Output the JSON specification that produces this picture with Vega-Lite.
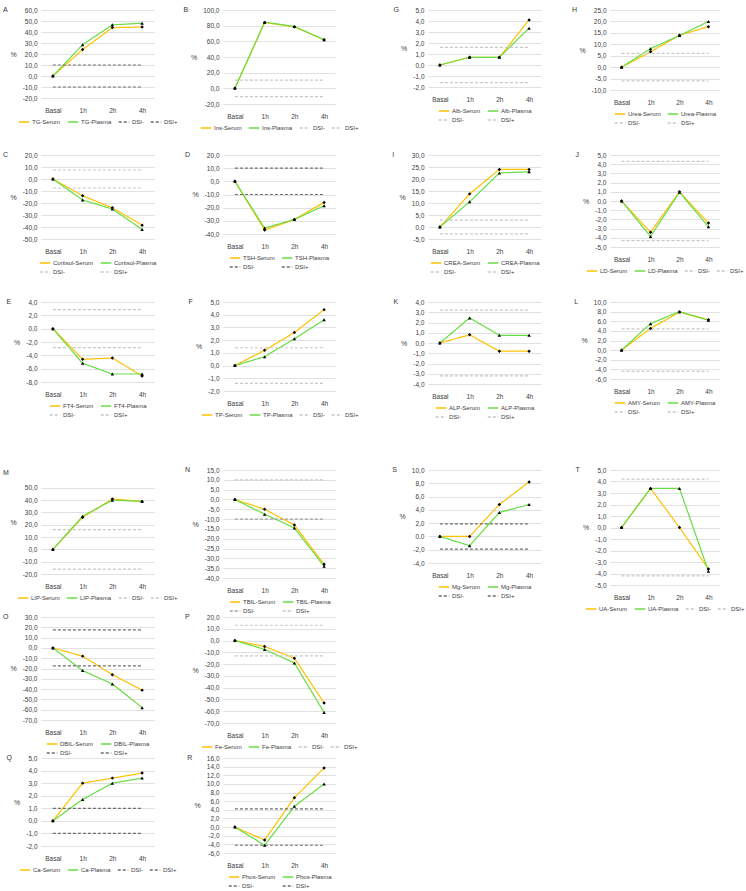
{
"$schema":"https://vega.github.io/schema/vega-lite/v6.json",
"padding":{"left":2,"top":6,"right":2,"bottom":2},
"data":{"values":[
{"p":"A","t":"Basal","Serum":0,"Plasma":0,"DSI-":-10,"DSI+":10},
{"p":"A","t":"1h","Serum":24,"Plasma":28.5,"DSI-":-10,"DSI+":10},
{"p":"A","t":"2h","Serum":44,"Plasma":46.5,"DSI-":-10,"DSI+":10},
{"p":"A","t":"4h","Serum":44.5,"Plasma":48,"DSI-":-10,"DSI+":10},
{"p":"B","t":"Basal","Serum":0,"Plasma":0,"DSI-":-10.6,"DSI+":10.6},
{"p":"B","t":"1h","Serum":84,"Plasma":84.5,"DSI-":-10.6,"DSI+":10.6},
{"p":"B","t":"2h","Serum":78.5,"Plasma":79,"DSI-":-10.6,"DSI+":10.6},
{"p":"B","t":"4h","Serum":62,"Plasma":62,"DSI-":-10.6,"DSI+":10.6},
{"p":"C","t":"Basal","Serum":0,"Plasma":0,"DSI-":-7.5,"DSI+":7.5},
{"p":"C","t":"1h","Serum":-14,"Plasma":-17.5,"DSI-":-7.5,"DSI+":7.5},
{"p":"C","t":"2h","Serum":-24,"Plasma":-25,"DSI-":-7.5,"DSI+":7.5},
{"p":"C","t":"4h","Serum":-38.5,"Plasma":-42,"DSI-":-7.5,"DSI+":7.5},
{"p":"D","t":"Basal","Serum":0,"Plasma":0,"DSI-":-10,"DSI+":10},
{"p":"D","t":"1h","Serum":-37,"Plasma":-35.5,"DSI-":-10,"DSI+":10},
{"p":"D","t":"2h","Serum":-29,"Plasma":-29,"DSI-":-10,"DSI+":10},
{"p":"D","t":"4h","Serum":-16,"Plasma":-18.5,"DSI-":-10,"DSI+":10},
{"p":"E","t":"Basal","Serum":0,"Plasma":0,"DSI-":-2.85,"DSI+":2.85},
{"p":"E","t":"1h","Serum":-4.6,"Plasma":-5.2,"DSI-":-2.85,"DSI+":2.85},
{"p":"E","t":"2h","Serum":-4.4,"Plasma":-6.8,"DSI-":-2.85,"DSI+":2.85},
{"p":"E","t":"4h","Serum":-7.1,"Plasma":-6.8,"DSI-":-2.85,"DSI+":2.85},
{"p":"F","t":"Basal","Serum":0,"Plasma":0,"DSI-":-1.4,"DSI+":1.4},
{"p":"F","t":"1h","Serum":1.2,"Plasma":0.7,"DSI-":-1.4,"DSI+":1.4},
{"p":"F","t":"2h","Serum":2.6,"Plasma":2.1,"DSI-":-1.4,"DSI+":1.4},
{"p":"F","t":"4h","Serum":4.4,"Plasma":3.6,"DSI-":-1.4,"DSI+":1.4},
{"p":"G","t":"Basal","Serum":0,"Plasma":0,"DSI-":-1.6,"DSI+":1.6},
{"p":"G","t":"1h","Serum":0.7,"Plasma":0.7,"DSI-":-1.6,"DSI+":1.6},
{"p":"G","t":"2h","Serum":0.7,"Plasma":0.7,"DSI-":-1.6,"DSI+":1.6},
{"p":"G","t":"4h","Serum":4.1,"Plasma":3.35,"DSI-":-1.6,"DSI+":1.6},
{"p":"H","t":"Basal","Serum":0,"Plasma":0,"DSI-":-6,"DSI+":6},
{"p":"H","t":"1h","Serum":6.7,"Plasma":8.1,"DSI-":-6,"DSI+":6},
{"p":"H","t":"2h","Serum":14,"Plasma":13.8,"DSI-":-6,"DSI+":6},
{"p":"H","t":"4h","Serum":17.7,"Plasma":20,"DSI-":-6,"DSI+":6},
{"p":"I","t":"Basal","Serum":0,"Plasma":0,"DSI-":-2.9,"DSI+":2.9},
{"p":"I","t":"1h","Serum":13.8,"Plasma":10.5,"DSI-":-2.9,"DSI+":2.9},
{"p":"I","t":"2h","Serum":24,"Plasma":22.5,"DSI-":-2.9,"DSI+":2.9},
{"p":"I","t":"4h","Serum":24,"Plasma":23,"DSI-":-2.9,"DSI+":2.9},
{"p":"J","t":"Basal","Serum":0,"Plasma":0,"DSI-":-4.3,"DSI+":4.3},
{"p":"J","t":"1h","Serum":-3.4,"Plasma":-3.85,"DSI-":-4.3,"DSI+":4.3},
{"p":"J","t":"2h","Serum":1,"Plasma":0.95,"DSI-":-4.3,"DSI+":4.3},
{"p":"J","t":"4h","Serum":-2.4,"Plasma":-2.8,"DSI-":-4.3,"DSI+":4.3},
{"p":"K","t":"Basal","Serum":0,"Plasma":0,"DSI-":-3.2,"DSI+":3.2},
{"p":"K","t":"1h","Serum":0.8,"Plasma":2.45,"DSI-":-3.2,"DSI+":3.2},
{"p":"K","t":"2h","Serum":-0.8,"Plasma":0.75,"DSI-":-3.2,"DSI+":3.2},
{"p":"K","t":"4h","Serum":-0.8,"Plasma":0.75,"DSI-":-3.2,"DSI+":3.2},
{"p":"L","t":"Basal","Serum":0,"Plasma":0,"DSI-":-4.4,"DSI+":4.4},
{"p":"L","t":"1h","Serum":4.5,"Plasma":5.5,"DSI-":-4.4,"DSI+":4.4},
{"p":"L","t":"2h","Serum":7.9,"Plasma":8,"DSI-":-4.4,"DSI+":4.4},
{"p":"L","t":"4h","Serum":6.3,"Plasma":6.2,"DSI-":-4.4,"DSI+":4.4},
{"p":"M","t":"Basal","Serum":0,"Plasma":0,"DSI-":-16,"DSI+":16},
{"p":"M","t":"1h","Serum":26,"Plasma":27,"DSI-":-16,"DSI+":16},
{"p":"M","t":"2h","Serum":41,"Plasma":40,"DSI-":-16,"DSI+":16},
{"p":"M","t":"4h","Serum":39,"Plasma":39,"DSI-":-16,"DSI+":16},
{"p":"N","t":"Basal","Serum":0,"Plasma":0,"DSI-":-10,"DSI+":10},
{"p":"N","t":"1h","Serum":-5,"Plasma":-7.5,"DSI-":-10,"DSI+":10},
{"p":"N","t":"2h","Serum":-13,"Plasma":-14.5,"DSI-":-10,"DSI+":10},
{"p":"N","t":"4h","Serum":-33,"Plasma":-34,"DSI-":-10,"DSI+":10},
{"p":"O","t":"Basal","Serum":0,"Plasma":0,"DSI-":-17.5,"DSI+":17.5},
{"p":"O","t":"1h","Serum":-8,"Plasma":-22,"DSI-":-17.5,"DSI+":17.5},
{"p":"O","t":"2h","Serum":-26,"Plasma":-35,"DSI-":-17.5,"DSI+":17.5},
{"p":"O","t":"4h","Serum":-41,"Plasma":-58,"DSI-":-17.5,"DSI+":17.5},
{"p":"P","t":"Basal","Serum":0,"Plasma":0,"DSI-":-13,"DSI+":13},
{"p":"P","t":"1h","Serum":-5,"Plasma":-7.5,"DSI-":-13,"DSI+":13},
{"p":"P","t":"2h","Serum":-15,"Plasma":-19,"DSI-":-13,"DSI+":13},
{"p":"P","t":"4h","Serum":-53,"Plasma":-61,"DSI-":-13,"DSI+":13},
{"p":"Q","t":"Basal","Serum":0,"Plasma":0,"DSI-":-1,"DSI+":1},
{"p":"Q","t":"1h","Serum":3,"Plasma":1.7,"DSI-":-1,"DSI+":1},
{"p":"Q","t":"2h","Serum":3.4,"Plasma":3,"DSI-":-1,"DSI+":1},
{"p":"Q","t":"4h","Serum":3.8,"Plasma":3.4,"DSI-":-1,"DSI+":1},
{"p":"R","t":"Basal","Serum":0,"Plasma":0,"DSI-":-4.2,"DSI+":4.2},
{"p":"R","t":"1h","Serum":-3,"Plasma":-4.2,"DSI-":-4.2,"DSI+":4.2},
{"p":"R","t":"2h","Serum":6.8,"Plasma":4.8,"DSI-":-4.2,"DSI+":4.2},
{"p":"R","t":"4h","Serum":13.7,"Plasma":10,"DSI-":-4.2,"DSI+":4.2},
{"p":"S","t":"Basal","Serum":0,"Plasma":0,"DSI-":-1.9,"DSI+":1.9},
{"p":"S","t":"1h","Serum":0,"Plasma":-1.4,"DSI-":-1.9,"DSI+":1.9},
{"p":"S","t":"2h","Serum":4.8,"Plasma":3.6,"DSI-":-1.9,"DSI+":1.9},
{"p":"S","t":"4h","Serum":8.2,"Plasma":4.8,"DSI-":-1.9,"DSI+":1.9},
{"p":"T","t":"Basal","Serum":0,"Plasma":0,"DSI-":-4.2,"DSI+":4.2},
{"p":"T","t":"1h","Serum":3.4,"Plasma":3.4,"DSI-":-4.2,"DSI+":4.2},
{"p":"T","t":"2h","Serum":0,"Plasma":3.4,"DSI-":-4.2,"DSI+":4.2},
{"p":"T","t":"4h","Serum":-3.6,"Plasma":-3.8,"DSI-":-4.2,"DSI+":4.2}
]},
"resolve":{"scale":{"color":"independent","strokeDash":"independent","shape":"independent","x":"independent","y":"independent"},"legend":{"color":"independent","strokeDash":"independent"}},
"columns":4,
"spacing":{"row":0,"column":69},
"bounds":"flush",
"align":"each",
"concat":[
{"title":"A","width":113,"height":88,"transform":[{"filter":"datum.p=='A'"},{"fold":["Serum","Plasma","DSI-","DSI+"],"as":["k","v"]}],
 "encoding":{"x":{"field":"t","type":"ordinal","sort":["Basal","1h","2h","4h"],"scale":{"type":"point","padding":0.4},"axis":{"title":null}},
  "y":{"field":"v","type":"quantitative","scale":{"domain":[-20,60],"nice":false,"zero":false},"axis":{"tickCount":8,"format":".1f","title":"%"}}},
 "layer":[
  {"mark":{"type":"line","strokeWidth":1.2},"encoding":{
    "color":{"field":"k","type":"nominal","scale":{"domain":["Serum","Plasma","DSI-","DSI+"],"range":["#FFC000","#66DD44","#6E6E6E","#6E6E6E"]},"legend":{"title":null,"columns":4,"labelExpr":"datum.label=='Serum'?'TG-Serum':datum.label=='Plasma'?'TG-Plasma':datum.label"}},
    "strokeDash":{"field":"k","type":"nominal","scale":{"domain":["Serum","Plasma","DSI-","DSI+"],"range":[[1,0],[1,0],[3,2],[3,2]]},"legend":{"title":null,"columns":4,"labelExpr":"datum.label=='Serum'?'TG-Serum':datum.label=='Plasma'?'TG-Plasma':datum.label"}}}},
  {"transform":[{"filter":{"field":"k","oneOf":["Serum","Plasma"]}}],"mark":{"type":"point","filled":true,"size":12,"color":"#000","opacity":1},"encoding":{"shape":{"field":"k","type":"nominal","scale":{"domain":["Serum","Plasma"],"range":["diamond","triangle-up"]},"legend":null}}}
 ]},
{"title":"B","width":113,"height":94,"transform":[{"filter":"datum.p=='B'"},{"fold":["Serum","Plasma","DSI-","DSI+"],"as":["k","v"]}],
 "encoding":{"x":{"field":"t","type":"ordinal","sort":["Basal","1h","2h","4h"],"scale":{"type":"point","padding":0.4},"axis":{"title":null}},
  "y":{"field":"v","type":"quantitative","scale":{"domain":[-20,100],"nice":false,"zero":false},"axis":{"tickCount":6,"format":".1f","title":"%"}}},
 "layer":[
  {"mark":{"type":"line","strokeWidth":1.2},"encoding":{
    "color":{"field":"k","type":"nominal","scale":{"domain":["Serum","Plasma","DSI-","DSI+"],"range":["#FFC000","#66DD44","#C8C8C8","#C8C8C8"]},"legend":{"title":null,"columns":4,"labelExpr":"datum.label=='Serum'?'Ins-Serum':datum.label=='Plasma'?'Ins-Plasma':datum.label"}},
    "strokeDash":{"field":"k","type":"nominal","scale":{"domain":["Serum","Plasma","DSI-","DSI+"],"range":[[1,0],[1,0],[3,2],[3,2]]},"legend":{"title":null,"columns":4,"labelExpr":"datum.label=='Serum'?'Ins-Serum':datum.label=='Plasma'?'Ins-Plasma':datum.label"}}}},
  {"transform":[{"filter":{"field":"k","oneOf":["Serum","Plasma"]}}],"mark":{"type":"point","filled":true,"size":12,"color":"#000","opacity":1},"encoding":{"shape":{"field":"k","type":"nominal","scale":{"domain":["Serum","Plasma"],"range":["diamond","triangle-up"]},"legend":null}}}
 ]},
{"title":"G","width":113,"height":77,"transform":[{"filter":"datum.p=='G'"},{"fold":["Serum","Plasma","DSI-","DSI+"],"as":["k","v"]}],
 "encoding":{"x":{"field":"t","type":"ordinal","sort":["Basal","1h","2h","4h"],"scale":{"type":"point","padding":0.4},"axis":{"title":null}},
  "y":{"field":"v","type":"quantitative","scale":{"domain":[-2,5],"nice":false,"zero":false},"axis":{"tickCount":7,"format":".1f","title":"%"}}},
 "layer":[
  {"mark":{"type":"line","strokeWidth":1.2},"encoding":{
    "color":{"field":"k","type":"nominal","scale":{"domain":["Serum","Plasma","DSI-","DSI+"],"range":["#FFC000","#66DD44","#C8C8C8","#C8C8C8"]},"legend":{"title":null,"columns":2,"labelExpr":"datum.label=='Serum'?'Alb-Serum':datum.label=='Plasma'?'Alb-Plasma':datum.label"}},
    "strokeDash":{"field":"k","type":"nominal","scale":{"domain":["Serum","Plasma","DSI-","DSI+"],"range":[[1,0],[1,0],[3,2],[3,2]]},"legend":{"title":null,"columns":2,"labelExpr":"datum.label=='Serum'?'Alb-Serum':datum.label=='Plasma'?'Alb-Plasma':datum.label"}}}},
  {"transform":[{"filter":{"field":"k","oneOf":["Serum","Plasma"]}}],"mark":{"type":"point","filled":true,"size":12,"color":"#000","opacity":1},"encoding":{"shape":{"field":"k","type":"nominal","scale":{"domain":["Serum","Plasma"],"range":["diamond","triangle-up"]},"legend":null}}}
 ]},
{"title":"H","width":110,"height":80,"transform":[{"filter":"datum.p=='H'"},{"fold":["Serum","Plasma","DSI-","DSI+"],"as":["k","v"]}],
 "encoding":{"x":{"field":"t","type":"ordinal","sort":["Basal","1h","2h","4h"],"scale":{"type":"point","padding":0.4},"axis":{"title":null}},
  "y":{"field":"v","type":"quantitative","scale":{"domain":[-10,25],"nice":false,"zero":false},"axis":{"tickCount":7,"format":".1f","title":"%"}}},
 "layer":[
  {"mark":{"type":"line","strokeWidth":1.2},"encoding":{
    "color":{"field":"k","type":"nominal","scale":{"domain":["Serum","Plasma","DSI-","DSI+"],"range":["#FFC000","#66DD44","#C8C8C8","#C8C8C8"]},"legend":{"title":null,"columns":2,"labelExpr":"datum.label=='Serum'?'Urea-Serum':datum.label=='Plasma'?'Urea-Plasma':datum.label"}},
    "strokeDash":{"field":"k","type":"nominal","scale":{"domain":["Serum","Plasma","DSI-","DSI+"],"range":[[1,0],[1,0],[3,2],[3,2]]},"legend":{"title":null,"columns":2,"labelExpr":"datum.label=='Serum'?'Urea-Serum':datum.label=='Plasma'?'Urea-Plasma':datum.label"}}}},
  {"transform":[{"filter":{"field":"k","oneOf":["Serum","Plasma"]}}],"mark":{"type":"point","filled":true,"size":12,"color":"#000","opacity":1},"encoding":{"shape":{"field":"k","type":"nominal","scale":{"domain":["Serum","Plasma"],"range":["diamond","triangle-up"]},"legend":null}}}
 ]},
{"width":113,"height":51,"data":{"values":[]},"mark":"point"},
{"width":136,"height":51,"data":{"values":[]},"mark":"point"},
{"width":113,"height":51,"data":{"values":[]},"mark":"point"},
{"width":110,"height":51,"data":{"values":[]},"mark":"point"},
{"title":"C","width":113,"height":84,"transform":[{"filter":"datum.p=='C'"},{"fold":["Serum","Plasma","DSI-","DSI+"],"as":["k","v"]}],
 "encoding":{"x":{"field":"t","type":"ordinal","sort":["Basal","1h","2h","4h"],"scale":{"type":"point","padding":0.4},"axis":{"title":null}},
  "y":{"field":"v","type":"quantitative","scale":{"domain":[-50,20],"nice":false,"zero":false},"axis":{"tickCount":7,"format":".1f","title":"%"}}},
 "layer":[
  {"mark":{"type":"line","strokeWidth":1.2},"encoding":{
    "color":{"field":"k","type":"nominal","scale":{"domain":["Serum","Plasma","DSI-","DSI+"],"range":["#FFC000","#66DD44","#C8C8C8","#C8C8C8"]},"legend":{"title":null,"columns":2,"labelExpr":"datum.label=='Serum'?'Cortisol-Serum':datum.label=='Plasma'?'Cortisol-Plasma':datum.label"}},
    "strokeDash":{"field":"k","type":"nominal","scale":{"domain":["Serum","Plasma","DSI-","DSI+"],"range":[[1,0],[1,0],[3,2],[3,2]]},"legend":{"title":null,"columns":2,"labelExpr":"datum.label=='Serum'?'Cortisol-Serum':datum.label=='Plasma'?'Cortisol-Plasma':datum.label"}}}},
  {"transform":[{"filter":{"field":"k","oneOf":["Serum","Plasma"]}}],"mark":{"type":"point","filled":true,"size":12,"color":"#000","opacity":1},"encoding":{"shape":{"field":"k","type":"nominal","scale":{"domain":["Serum","Plasma"],"range":["diamond","triangle-up"]},"legend":null}}}
 ]},
{"title":"D","width":113,"height":79,"transform":[{"filter":"datum.p=='D'"},{"fold":["Serum","Plasma","DSI-","DSI+"],"as":["k","v"]}],
 "encoding":{"x":{"field":"t","type":"ordinal","sort":["Basal","1h","2h","4h"],"scale":{"type":"point","padding":0.4},"axis":{"title":null}},
  "y":{"field":"v","type":"quantitative","scale":{"domain":[-40,20],"nice":false,"zero":false},"axis":{"tickCount":6,"format":".1f","title":"%"}}},
 "layer":[
  {"mark":{"type":"line","strokeWidth":1.2},"encoding":{
    "color":{"field":"k","type":"nominal","scale":{"domain":["Serum","Plasma","DSI-","DSI+"],"range":["#FFC000","#66DD44","#6E6E6E","#6E6E6E"]},"legend":{"title":null,"columns":2,"labelExpr":"datum.label=='Serum'?'TSH-Serum':datum.label=='Plasma'?'TSH-Plasma':datum.label"}},
    "strokeDash":{"field":"k","type":"nominal","scale":{"domain":["Serum","Plasma","DSI-","DSI+"],"range":[[1,0],[1,0],[3,2],[3,2]]},"legend":{"title":null,"columns":2,"labelExpr":"datum.label=='Serum'?'TSH-Serum':datum.label=='Plasma'?'TSH-Plasma':datum.label"}}}},
  {"transform":[{"filter":{"field":"k","oneOf":["Serum","Plasma"]}}],"mark":{"type":"point","filled":true,"size":12,"color":"#000","opacity":1},"encoding":{"shape":{"field":"k","type":"nominal","scale":{"domain":["Serum","Plasma"],"range":["diamond","triangle-up"]},"legend":null}}}
 ]},
{"title":"I","width":113,"height":84,"transform":[{"filter":"datum.p=='I'"},{"fold":["Serum","Plasma","DSI-","DSI+"],"as":["k","v"]}],
 "encoding":{"x":{"field":"t","type":"ordinal","sort":["Basal","1h","2h","4h"],"scale":{"type":"point","padding":0.4},"axis":{"title":null}},
  "y":{"field":"v","type":"quantitative","scale":{"domain":[-5,30],"nice":false,"zero":false},"axis":{"tickCount":7,"format":".1f","title":"%"}}},
 "layer":[
  {"mark":{"type":"line","strokeWidth":1.2},"encoding":{
    "color":{"field":"k","type":"nominal","scale":{"domain":["Serum","Plasma","DSI-","DSI+"],"range":["#FFC000","#66DD44","#C8C8C8","#C8C8C8"]},"legend":{"title":null,"columns":2,"labelExpr":"datum.label=='Serum'?'CREA-Serum':datum.label=='Plasma'?'CREA-Plasma':datum.label"}},
    "strokeDash":{"field":"k","type":"nominal","scale":{"domain":["Serum","Plasma","DSI-","DSI+"],"range":[[1,0],[1,0],[3,2],[3,2]]},"legend":{"title":null,"columns":2,"labelExpr":"datum.label=='Serum'?'CREA-Serum':datum.label=='Plasma'?'CREA-Plasma':datum.label"}}}},
  {"transform":[{"filter":{"field":"k","oneOf":["Serum","Plasma"]}}],"mark":{"type":"point","filled":true,"size":12,"color":"#000","opacity":1},"encoding":{"shape":{"field":"k","type":"nominal","scale":{"domain":["Serum","Plasma"],"range":["diamond","triangle-up"]},"legend":null}}}
 ]},
{"title":"J","width":110,"height":92,"transform":[{"filter":"datum.p=='J'"},{"fold":["Serum","Plasma","DSI-","DSI+"],"as":["k","v"]}],
 "encoding":{"x":{"field":"t","type":"ordinal","sort":["Basal","1h","2h","4h"],"scale":{"type":"point","padding":0.4},"axis":{"title":null}},
  "y":{"field":"v","type":"quantitative","scale":{"domain":[-5,5],"nice":false,"zero":false},"axis":{"tickCount":10,"format":".1f","title":"%"}}},
 "layer":[
  {"mark":{"type":"line","strokeWidth":1.2},"encoding":{
    "color":{"field":"k","type":"nominal","scale":{"domain":["Serum","Plasma","DSI-","DSI+"],"range":["#FFC000","#66DD44","#C8C8C8","#C8C8C8"]},"legend":{"title":null,"columns":4,"labelExpr":"datum.label=='Serum'?'LD-Serum':datum.label=='Plasma'?'LD-Plasma':datum.label"}},
    "strokeDash":{"field":"k","type":"nominal","scale":{"domain":["Serum","Plasma","DSI-","DSI+"],"range":[[1,0],[1,0],[3,2],[3,2]]},"legend":{"title":null,"columns":4,"labelExpr":"datum.label=='Serum'?'LD-Serum':datum.label=='Plasma'?'LD-Plasma':datum.label"}}}},
  {"transform":[{"filter":{"field":"k","oneOf":["Serum","Plasma"]}}],"mark":{"type":"point","filled":true,"size":12,"color":"#000","opacity":1},"encoding":{"shape":{"field":"k","type":"nominal","scale":{"domain":["Serum","Plasma"],"range":["diamond","triangle-up"]},"legend":null}}}
 ]},
{"width":113,"height":55,"data":{"values":[]},"mark":"point"},
{"width":136,"height":55,"data":{"values":[]},"mark":"point"},
{"width":113,"height":55,"data":{"values":[]},"mark":"point"},
{"width":110,"height":55,"data":{"values":[]},"mark":"point"},
{"title":"E","width":113,"height":80,"transform":[{"filter":"datum.p=='E'"},{"fold":["Serum","Plasma","DSI-","DSI+"],"as":["k","v"]}],
 "encoding":{"x":{"field":"t","type":"ordinal","sort":["Basal","1h","2h","4h"],"scale":{"type":"point","padding":0.4},"axis":{"title":null}},
  "y":{"field":"v","type":"quantitative","scale":{"domain":[-8,4],"nice":false,"zero":false},"axis":{"tickCount":6,"format":".1f","title":"%"}}},
 "layer":[
  {"mark":{"type":"line","strokeWidth":1.2},"encoding":{
    "color":{"field":"k","type":"nominal","scale":{"domain":["Serum","Plasma","DSI-","DSI+"],"range":["#FFC000","#66DD44","#C8C8C8","#C8C8C8"]},"legend":{"title":null,"columns":2,"labelExpr":"datum.label=='Serum'?'FT4-Serum':datum.label=='Plasma'?'FT4-Plasma':datum.label"}},
    "strokeDash":{"field":"k","type":"nominal","scale":{"domain":["Serum","Plasma","DSI-","DSI+"],"range":[[1,0],[1,0],[3,2],[3,2]]},"legend":{"title":null,"columns":2,"labelExpr":"datum.label=='Serum'?'FT4-Serum':datum.label=='Plasma'?'FT4-Plasma':datum.label"}}}},
  {"transform":[{"filter":{"field":"k","oneOf":["Serum","Plasma"]}}],"mark":{"type":"point","filled":true,"size":12,"color":"#000","opacity":1},"encoding":{"shape":{"field":"k","type":"nominal","scale":{"domain":["Serum","Plasma"],"range":["diamond","triangle-up"]},"legend":null}}}
 ]},
{"title":"F","width":113,"height":89,"transform":[{"filter":"datum.p=='F'"},{"fold":["Serum","Plasma","DSI-","DSI+"],"as":["k","v"]}],
 "encoding":{"x":{"field":"t","type":"ordinal","sort":["Basal","1h","2h","4h"],"scale":{"type":"point","padding":0.4},"axis":{"title":null}},
  "y":{"field":"v","type":"quantitative","scale":{"domain":[-2,5],"nice":false,"zero":false},"axis":{"tickCount":7,"format":".1f","title":"%"}}},
 "layer":[
  {"mark":{"type":"line","strokeWidth":1.2},"encoding":{
    "color":{"field":"k","type":"nominal","scale":{"domain":["Serum","Plasma","DSI-","DSI+"],"range":["#FFC000","#66DD44","#C8C8C8","#C8C8C8"]},"legend":{"title":null,"columns":4,"labelExpr":"datum.label=='Serum'?'TP-Serum':datum.label=='Plasma'?'TP-Plasma':datum.label"}},
    "strokeDash":{"field":"k","type":"nominal","scale":{"domain":["Serum","Plasma","DSI-","DSI+"],"range":[[1,0],[1,0],[3,2],[3,2]]},"legend":{"title":null,"columns":4,"labelExpr":"datum.label=='Serum'?'TP-Serum':datum.label=='Plasma'?'TP-Plasma':datum.label"}}}},
  {"transform":[{"filter":{"field":"k","oneOf":["Serum","Plasma"]}}],"mark":{"type":"point","filled":true,"size":12,"color":"#000","opacity":1},"encoding":{"shape":{"field":"k","type":"nominal","scale":{"domain":["Serum","Plasma"],"range":["diamond","triangle-up"]},"legend":null}}}
 ]},
{"title":"K","width":113,"height":82,"transform":[{"filter":"datum.p=='K'"},{"fold":["Serum","Plasma","DSI-","DSI+"],"as":["k","v"]}],
 "encoding":{"x":{"field":"t","type":"ordinal","sort":["Basal","1h","2h","4h"],"scale":{"type":"point","padding":0.4},"axis":{"title":null}},
  "y":{"field":"v","type":"quantitative","scale":{"domain":[-4,4],"nice":false,"zero":false},"axis":{"tickCount":8,"format":".1f","title":"%"}}},
 "layer":[
  {"mark":{"type":"line","strokeWidth":1.2},"encoding":{
    "color":{"field":"k","type":"nominal","scale":{"domain":["Serum","Plasma","DSI-","DSI+"],"range":["#FFC000","#66DD44","#C8C8C8","#C8C8C8"]},"legend":{"title":null,"columns":2,"labelExpr":"datum.label=='Serum'?'ALP-Serum':datum.label=='Plasma'?'ALP-Plasma':datum.label"}},
    "strokeDash":{"field":"k","type":"nominal","scale":{"domain":["Serum","Plasma","DSI-","DSI+"],"range":[[1,0],[1,0],[3,2],[3,2]]},"legend":{"title":null,"columns":2,"labelExpr":"datum.label=='Serum'?'ALP-Serum':datum.label=='Plasma'?'ALP-Plasma':datum.label"}}}},
  {"transform":[{"filter":{"field":"k","oneOf":["Serum","Plasma"]}}],"mark":{"type":"point","filled":true,"size":12,"color":"#000","opacity":1},"encoding":{"shape":{"field":"k","type":"nominal","scale":{"domain":["Serum","Plasma"],"range":["diamond","triangle-up"]},"legend":null}}}
 ]},
{"title":"L","width":110,"height":77,"transform":[{"filter":"datum.p=='L'"},{"fold":["Serum","Plasma","DSI-","DSI+"],"as":["k","v"]}],
 "encoding":{"x":{"field":"t","type":"ordinal","sort":["Basal","1h","2h","4h"],"scale":{"type":"point","padding":0.4},"axis":{"title":null}},
  "y":{"field":"v","type":"quantitative","scale":{"domain":[-6,10],"nice":false,"zero":false},"axis":{"tickCount":8,"format":".1f","title":"%"}}},
 "layer":[
  {"mark":{"type":"line","strokeWidth":1.2},"encoding":{
    "color":{"field":"k","type":"nominal","scale":{"domain":["Serum","Plasma","DSI-","DSI+"],"range":["#FFC000","#66DD44","#C8C8C8","#C8C8C8"]},"legend":{"title":null,"columns":2,"labelExpr":"datum.label=='Serum'?'AMY-Serum':datum.label=='Plasma'?'AMY-Plasma':datum.label"}},
    "strokeDash":{"field":"k","type":"nominal","scale":{"domain":["Serum","Plasma","DSI-","DSI+"],"range":[[1,0],[1,0],[3,2],[3,2]]},"legend":{"title":null,"columns":2,"labelExpr":"datum.label=='Serum'?'AMY-Serum':datum.label=='Plasma'?'AMY-Plasma':datum.label"}}}},
  {"transform":[{"filter":{"field":"k","oneOf":["Serum","Plasma"]}}],"mark":{"type":"point","filled":true,"size":12,"color":"#000","opacity":1},"encoding":{"shape":{"field":"k","type":"nominal","scale":{"domain":["Serum","Plasma"],"range":["diamond","triangle-up"]},"legend":null}}}
 ]},
{"width":113,"height":79,"data":{"values":[]},"mark":"point"},
{"width":136,"height":79,"data":{"values":[]},"mark":"point"},
{"width":113,"height":79,"data":{"values":[]},"mark":"point"},
{"width":110,"height":79,"data":{"values":[]},"mark":"point"},
{"title":"M","width":113,"height":104,"transform":[{"filter":"datum.p=='M'"},{"fold":["Serum","Plasma","DSI-","DSI+"],"as":["k","v"]}],
 "encoding":{"x":{"field":"t","type":"ordinal","sort":["Basal","1h","2h","4h"],"scale":{"type":"point","padding":0.4},"axis":{"title":null}},
  "y":{"field":"v","type":"quantitative","scale":{"domain":[-20,64.5],"nice":false,"zero":false},"axis":{"values":[-20,-10,0,10,20,30,40,50],"format":".1f","title":"%"}}},
 "layer":[
  {"mark":{"type":"line","strokeWidth":1.2},"encoding":{
    "color":{"field":"k","type":"nominal","scale":{"domain":["Serum","Plasma","DSI-","DSI+"],"range":["#FFC000","#66DD44","#C8C8C8","#C8C8C8"]},"legend":{"title":null,"columns":4,"labelExpr":"datum.label=='Serum'?'LIP-Serum':datum.label=='Plasma'?'LIP-Plasma':datum.label"}},
    "strokeDash":{"field":"k","type":"nominal","scale":{"domain":["Serum","Plasma","DSI-","DSI+"],"range":[[1,0],[1,0],[3,2],[3,2]]},"legend":{"title":null,"columns":4,"labelExpr":"datum.label=='Serum'?'LIP-Serum':datum.label=='Plasma'?'LIP-Plasma':datum.label"}}}},
  {"transform":[{"filter":{"field":"k","oneOf":["Serum","Plasma"]}}],"mark":{"type":"point","filled":true,"size":12,"color":"#000","opacity":1},"encoding":{"shape":{"field":"k","type":"nominal","scale":{"domain":["Serum","Plasma"],"range":["diamond","triangle-up"]},"legend":null}}}
 ]},
{"title":"N","width":113,"height":108,"transform":[{"filter":"datum.p=='N'"},{"fold":["Serum","Plasma","DSI-","DSI+"],"as":["k","v"]}],
 "encoding":{"x":{"field":"t","type":"ordinal","sort":["Basal","1h","2h","4h"],"scale":{"type":"point","padding":0.4},"axis":{"title":null}},
  "y":{"field":"v","type":"quantitative","scale":{"domain":[-40,15],"nice":false,"zero":false},"axis":{"tickCount":11,"format":".1f","title":"%"}}},
 "layer":[
  {"mark":{"type":"line","strokeWidth":1.2},"encoding":{
    "color":{"field":"k","type":"nominal","scale":{"domain":["Serum","Plasma","DSI-","DSI+"],"range":["#FFC000","#66DD44","#A0A0A0","#C8C8C8"]},"legend":{"title":null,"columns":2,"labelExpr":"datum.label=='Serum'?'TBIL-Serum':datum.label=='Plasma'?'TBIL-Plasma':datum.label"}},
    "strokeDash":{"field":"k","type":"nominal","scale":{"domain":["Serum","Plasma","DSI-","DSI+"],"range":[[1,0],[1,0],[3,2],[3,2]]},"legend":{"title":null,"columns":2,"labelExpr":"datum.label=='Serum'?'TBIL-Serum':datum.label=='Plasma'?'TBIL-Plasma':datum.label"}}}},
  {"transform":[{"filter":{"field":"k","oneOf":["Serum","Plasma"]}}],"mark":{"type":"point","filled":true,"size":12,"color":"#000","opacity":1},"encoding":{"shape":{"field":"k","type":"nominal","scale":{"domain":["Serum","Plasma"],"range":["diamond","triangle-up"]},"legend":null}}}
 ]},
{"title":"S","width":113,"height":93,"transform":[{"filter":"datum.p=='S'"},{"fold":["Serum","Plasma","DSI-","DSI+"],"as":["k","v"]}],
 "encoding":{"x":{"field":"t","type":"ordinal","sort":["Basal","1h","2h","4h"],"scale":{"type":"point","padding":0.4},"axis":{"title":null}},
  "y":{"field":"v","type":"quantitative","scale":{"domain":[-4,10],"nice":false,"zero":false},"axis":{"tickCount":7,"format":".1f","title":"%"}}},
 "layer":[
  {"mark":{"type":"line","strokeWidth":1.2},"encoding":{
    "color":{"field":"k","type":"nominal","scale":{"domain":["Serum","Plasma","DSI-","DSI+"],"range":["#FFC000","#66DD44","#6E6E6E","#6E6E6E"]},"legend":{"title":null,"columns":2,"labelExpr":"datum.label=='Serum'?'Mg-Serum':datum.label=='Plasma'?'Mg-Plasma':datum.label"}},
    "strokeDash":{"field":"k","type":"nominal","scale":{"domain":["Serum","Plasma","DSI-","DSI+"],"range":[[1,0],[1,0],[3,2],[3,2]]},"legend":{"title":null,"columns":2,"labelExpr":"datum.label=='Serum'?'Mg-Serum':datum.label=='Plasma'?'Mg-Plasma':datum.label"}}}},
  {"transform":[{"filter":{"field":"k","oneOf":["Serum","Plasma"]}}],"mark":{"type":"point","filled":true,"size":12,"color":"#000","opacity":1},"encoding":{"shape":{"field":"k","type":"nominal","scale":{"domain":["Serum","Plasma"],"range":["diamond","triangle-up"]},"legend":null}}}
 ]},
{"title":"T","width":110,"height":115,"transform":[{"filter":"datum.p=='T'"},{"fold":["Serum","Plasma","DSI-","DSI+"],"as":["k","v"]}],
 "encoding":{"x":{"field":"t","type":"ordinal","sort":["Basal","1h","2h","4h"],"scale":{"type":"point","padding":0.4},"axis":{"title":null}},
  "y":{"field":"v","type":"quantitative","scale":{"domain":[-5,5],"nice":false,"zero":false},"axis":{"tickCount":10,"format":".1f","title":"%"}}},
 "layer":[
  {"mark":{"type":"line","strokeWidth":1.2},"encoding":{
    "color":{"field":"k","type":"nominal","scale":{"domain":["Serum","Plasma","DSI-","DSI+"],"range":["#FFC000","#66DD44","#C8C8C8","#C8C8C8"]},"legend":{"title":null,"columns":4,"labelExpr":"datum.label=='Serum'?'UA-Serum':datum.label=='Plasma'?'UA-Plasma':datum.label"}},
    "strokeDash":{"field":"k","type":"nominal","scale":{"domain":["Serum","Plasma","DSI-","DSI+"],"range":[[1,0],[1,0],[3,2],[3,2]]},"legend":{"title":null,"columns":4,"labelExpr":"datum.label=='Serum'?'UA-Serum':datum.label=='Plasma'?'UA-Plasma':datum.label"}}}},
  {"transform":[{"filter":{"field":"k","oneOf":["Serum","Plasma"]}}],"mark":{"type":"point","filled":true,"size":12,"color":"#000","opacity":1},"encoding":{"shape":{"field":"k","type":"nominal","scale":{"domain":["Serum","Plasma"],"range":["diamond","triangle-up"]},"legend":null}}}
 ]},
{"width":113,"height":32,"data":{"values":[]},"mark":"point"},
{"width":136,"height":32,"data":{"values":[]},"mark":"point"},
{"width":113,"height":32,"data":{"values":[]},"mark":"point"},
{"width":110,"height":32,"data":{"values":[]},"mark":"point"},
{"title":"O","width":113,"height":103,"transform":[{"filter":"datum.p=='O'"},{"fold":["Serum","Plasma","DSI-","DSI+"],"as":["k","v"]}],
 "encoding":{"x":{"field":"t","type":"ordinal","sort":["Basal","1h","2h","4h"],"scale":{"type":"point","padding":0.4},"axis":{"title":null}},
  "y":{"field":"v","type":"quantitative","scale":{"domain":[-70,30],"nice":false,"zero":false},"axis":{"tickCount":10,"format":".1f","title":"%"}}},
 "layer":[
  {"mark":{"type":"line","strokeWidth":1.2},"encoding":{
    "color":{"field":"k","type":"nominal","scale":{"domain":["Serum","Plasma","DSI-","DSI+"],"range":["#FFC000","#66DD44","#6E6E6E","#6E6E6E"]},"legend":{"title":null,"columns":2,"labelExpr":"datum.label=='Serum'?'DBIL-Serum':datum.label=='Plasma'?'DBIL-Plasma':datum.label"}},
    "strokeDash":{"field":"k","type":"nominal","scale":{"domain":["Serum","Plasma","DSI-","DSI+"],"range":[[1,0],[1,0],[3,2],[3,2]]},"legend":{"title":null,"columns":2,"labelExpr":"datum.label=='Serum'?'DBIL-Serum':datum.label=='Plasma'?'DBIL-Plasma':datum.label"}}}},
  {"transform":[{"filter":{"field":"k","oneOf":["Serum","Plasma"]}}],"mark":{"type":"point","filled":true,"size":12,"color":"#000","opacity":1},"encoding":{"shape":{"field":"k","type":"nominal","scale":{"domain":["Serum","Plasma"],"range":["diamond","triangle-up"]},"legend":null}}}
 ]},
{"title":"P","width":113,"height":106,"transform":[{"filter":"datum.p=='P'"},{"fold":["Serum","Plasma","DSI-","DSI+"],"as":["k","v"]}],
 "encoding":{"x":{"field":"t","type":"ordinal","sort":["Basal","1h","2h","4h"],"scale":{"type":"point","padding":0.4},"axis":{"title":null}},
  "y":{"field":"v","type":"quantitative","scale":{"domain":[-70,20],"nice":false,"zero":false},"axis":{"tickCount":9,"format":".1f","title":"%"}}},
 "layer":[
  {"mark":{"type":"line","strokeWidth":1.2},"encoding":{
    "color":{"field":"k","type":"nominal","scale":{"domain":["Serum","Plasma","DSI-","DSI+"],"range":["#FFC000","#66DD44","#C8C8C8","#C8C8C8"]},"legend":{"title":null,"columns":4,"labelExpr":"datum.label=='Serum'?'Fe-Serum':datum.label=='Plasma'?'Fe-Plasma':datum.label"}},
    "strokeDash":{"field":"k","type":"nominal","scale":{"domain":["Serum","Plasma","DSI-","DSI+"],"range":[[1,0],[1,0],[3,2],[3,2]]},"legend":{"title":null,"columns":4,"labelExpr":"datum.label=='Serum'?'Fe-Serum':datum.label=='Plasma'?'Fe-Plasma':datum.label"}}}},
  {"transform":[{"filter":{"field":"k","oneOf":["Serum","Plasma"]}}],"mark":{"type":"point","filled":true,"size":12,"color":"#000","opacity":1},"encoding":{"shape":{"field":"k","type":"nominal","scale":{"domain":["Serum","Plasma"],"range":["diamond","triangle-up"]},"legend":null}}}
 ]},
{"width":113,"height":1,"data":{"values":[]},"mark":"point"},
{"width":110,"height":1,"data":{"values":[]},"mark":"point"},
{"width":113,"height":35,"data":{"values":[]},"mark":"point"},
{"width":136,"height":35,"data":{"values":[]},"mark":"point"},
{"width":113,"height":35,"data":{"values":[]},"mark":"point"},
{"width":110,"height":35,"data":{"values":[]},"mark":"point"},
{"title":"Q","width":113,"height":88,"transform":[{"filter":"datum.p=='Q'"},{"fold":["Serum","Plasma","DSI-","DSI+"],"as":["k","v"]}],
 "encoding":{"x":{"field":"t","type":"ordinal","sort":["Basal","1h","2h","4h"],"scale":{"type":"point","padding":0.4},"axis":{"title":null}},
  "y":{"field":"v","type":"quantitative","scale":{"domain":[-2,5],"nice":false,"zero":false},"axis":{"tickCount":7,"format":".1f","title":"%"}}},
 "layer":[
  {"mark":{"type":"line","strokeWidth":1.2},"encoding":{
    "color":{"field":"k","type":"nominal","scale":{"domain":["Serum","Plasma","DSI-","DSI+"],"range":["#FFC000","#66DD44","#6E6E6E","#6E6E6E"]},"legend":{"title":null,"columns":4,"labelExpr":"datum.label=='Serum'?'Ca-Serum':datum.label=='Plasma'?'Ca-Plasma':datum.label"}},
    "strokeDash":{"field":"k","type":"nominal","scale":{"domain":["Serum","Plasma","DSI-","DSI+"],"range":[[1,0],[1,0],[3,2],[3,2]]},"legend":{"title":null,"columns":4,"labelExpr":"datum.label=='Serum'?'Ca-Serum':datum.label=='Plasma'?'Ca-Plasma':datum.label"}}}},
  {"transform":[{"filter":{"field":"k","oneOf":["Serum","Plasma"]}}],"mark":{"type":"point","filled":true,"size":12,"color":"#000","opacity":1},"encoding":{"shape":{"field":"k","type":"nominal","scale":{"domain":["Serum","Plasma"],"range":["diamond","triangle-up"]},"legend":null}}}
 ]},
{"title":"R","width":113,"height":95,"transform":[{"filter":"datum.p=='R'"},{"fold":["Serum","Plasma","DSI-","DSI+"],"as":["k","v"]}],
 "encoding":{"x":{"field":"t","type":"ordinal","sort":["Basal","1h","2h","4h"],"scale":{"type":"point","padding":0.4},"axis":{"title":null}},
  "y":{"field":"v","type":"quantitative","scale":{"domain":[-6,16],"nice":false,"zero":false},"axis":{"tickCount":11,"format":".1f","title":"%"}}},
 "layer":[
  {"mark":{"type":"line","strokeWidth":1.2},"encoding":{
    "color":{"field":"k","type":"nominal","scale":{"domain":["Serum","Plasma","DSI-","DSI+"],"range":["#FFC000","#66DD44","#6E6E6E","#6E6E6E"]},"legend":{"title":null,"columns":2,"labelExpr":"datum.label=='Serum'?'Phos-Serum':datum.label=='Plasma'?'Phos-Plasma':datum.label"}},
    "strokeDash":{"field":"k","type":"nominal","scale":{"domain":["Serum","Plasma","DSI-","DSI+"],"range":[[1,0],[1,0],[3,2],[3,2]]},"legend":{"title":null,"columns":2,"labelExpr":"datum.label=='Serum'?'Phos-Serum':datum.label=='Plasma'?'Phos-Plasma':datum.label"}}}},
  {"transform":[{"filter":{"field":"k","oneOf":["Serum","Plasma"]}}],"mark":{"type":"point","filled":true,"size":12,"color":"#000","opacity":1},"encoding":{"shape":{"field":"k","type":"nominal","scale":{"domain":["Serum","Plasma"],"range":["diamond","triangle-up"]},"legend":null}}}
 ]},
{"width":113,"height":1,"data":{"values":[]},"mark":"point"},
{"width":110,"height":1,"data":{"values":[]},"mark":"point"}
],
"config":{
 "locale":{"number":{"decimal":",","thousands":".","grouping":[3],"currency":["",""],"minus":"-"}},
 "view":{"stroke":null},
 "font":"Liberation Sans",
 "axis":{"labelFontSize":6.5,"labelColor":"#404040","titleFontSize":7,"titleFontWeight":"normal","titleColor":"#404040","domain":false,"ticks":false,"gridColor":"#d9d9d9","gridWidth":0.8},
 "axisX":{"grid":false,"labelAngle":0,"labelPadding":9},
 "axisY":{"titleAngle":0,"titleAlign":"right","titleBaseline":"middle","labelPadding":4,"titlePadding":6},
 "legend":{"orient":"bottom","direction":"horizontal","labelFontSize":6,"labelColor":"#404040","symbolType":"stroke","symbolSize":110,"symbolStrokeWidth":1.4,"columnPadding":3,"labelOffset":2,"rowPadding":0,"offset":2,"labelLimit":100,"layout":{"bottom":{"anchor":"middle"}}},
 "title":{"fontSize":7,"fontWeight":"normal","anchor":"start","frame":"bounds","offset":-6,"dx":-7,"color":"#333"}
}
}
